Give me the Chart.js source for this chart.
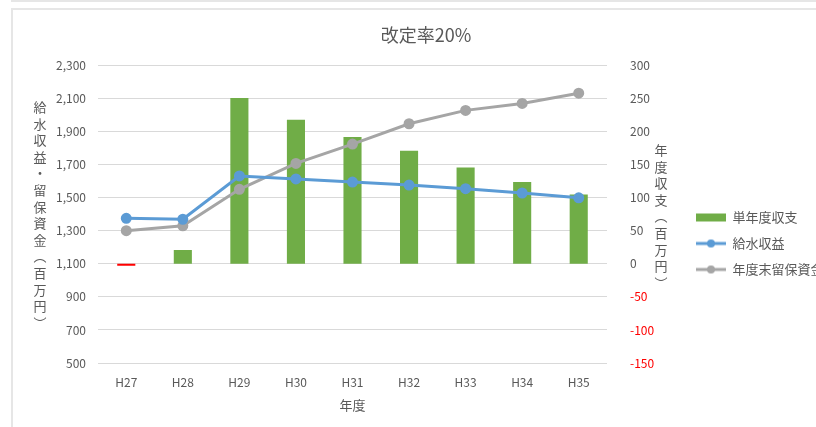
<!DOCTYPE html>
<html lang="ja">
<head>
<meta charset="utf-8">
<script src="https://cdn.jsdelivr.net/npm/chart.js@4.4.1/dist/chart.umd.min.js"></script>
<style>
  html, body { margin: 0; padding: 0; background: #fff; overflow: hidden; }
  body { width: 816px; height: 427px; position: relative; }
  #prev { position: absolute; left: 11px; top: -8px; width: 900px; height: 8px;
          border-left: 2px solid #e6e6e6; border-bottom: 2px solid #e6e6e6; }
  #card { position: absolute; left: 11px; top: 8px; width: 826px; height: 417px;
          border-left: 2px solid #e6e6e6; border-top: 2px solid #e6e6e6; background: #fff; }
  #card canvas { display: block; }
</style>
</head>
<body>
<div id="prev"></div>
<div id="card"><canvas id="grafico" width="826" height="417"></canvas></div>
<script>
const anos = ["H27", "H28", "H29", "H30", "H31", "H32", "H33", "H34", "H35"];
const saldoAnual = [-3, 21, 251, 218, 192, 171, 146, 124, 105];
const receitaAgua = [1376, 1370, 1632, 1614, 1595, 1577, 1555, 1529, 1500];
const reservaFinal = [1301, 1330, 1551, 1708, 1825, 1948, 2029, 2071, 2133];

const tituloEsq = ["給", "水", "収", "益", "・", "留", "保", "資", "金", "︵", "百", "万", "円", "︶"];
const tituloDir = ["年", "度", "収", "支", "︵", "百", "万", "円", "︶"];

const fonte = "'Noto Sans CJK JP', 'Noto Sans', sans-serif";
const cinza = "#595959";

// marcadores da legenda (barra e linha com ponto)
function marcador(tipo, cor) {
  const c = document.createElement("canvas");
  c.width = 30;
  c.height = 10;
  const ctx = c.getContext("2d");
  ctx.fillStyle = cor;
  ctx.strokeStyle = cor;
  if (tipo === "bar") {
    ctx.fillRect(0, 1, 30, 8);
  } else {
    ctx.lineWidth = 3;
    ctx.beginPath();
    ctx.moveTo(0, 5);
    ctx.lineTo(30, 5);
    ctx.stroke();
    ctx.beginPath();
    ctx.arc(15, 5, 4, 0, Math.PI * 2);
    ctx.fill();
  }
  return c;
}
const marcadores = [
  marcador("bar", "#70ad47"),
  marcador("line", "#5b9bd5"),
  marcador("line", "#a5a5a5"),
];

// títulos verticais dos eixos
const titulosVerticais = {
  id: "titulosVerticais",
  afterDraw(chart) {
    const ctx = chart.ctx;
    ctx.save();
    ctx.fillStyle = cinza;
    ctx.font = "13px " + fonte;
    ctx.textAlign = "center";
    ctx.textBaseline = "middle";
    tituloEsq.forEach((ch, i) => ctx.fillText(ch, 27, 97 + i * 16.6));
    tituloDir.forEach((ch, i) => ctx.fillText(ch, 648, 140 + i * 16.6));
    ctx.restore();
  },
};

// posição da legenda
const legendaLugar = {
  id: "legendaLugar",
  beforeLayout(chart) {
    const lg = chart.legend;
    if (lg && !lg._ajustada) {
      const fit = lg.fit;
      lg.fit = function () {
        fit.call(this);
        this.width = 156;
      };
      lg._ajustada = true;
    }
  },
  afterLayout(chart) {
    const lg = chart.legend;
    if (lg) {
      lg.top += 25;
      lg.bottom += 25;
    }
  },
};

new Chart(document.getElementById("grafico"), {
  type: "bar",
  data: {
    labels: anos,
    datasets: [
      {
        label: "単年度収支",
        data: saldoAnual,
        yAxisID: "y1",
        backgroundColor: saldoAnual.map((v) => (v < 0 ? "#ff0000" : "#70ad47")),
        barPercentage: 0.32,
        categoryPercentage: 1,
        order: 2,
      },
      {
        type: "line",
        label: "給水収益",
        data: receitaAgua,
        yAxisID: "y",
        borderColor: "#5b9bd5",
        backgroundColor: "#5b9bd5",
        borderWidth: 3,
        pointRadius: 4,
        pointHoverRadius: 4,
        tension: 0,
        order: 0,
      },
      {
        type: "line",
        label: "年度末留保資金",
        data: reservaFinal,
        yAxisID: "y",
        borderColor: "#a5a5a5",
        backgroundColor: "#a5a5a5",
        borderWidth: 3,
        pointRadius: 4,
        pointHoverRadius: 4,
        tension: 0,
        order: 1,
      },
    ],
  },
  options: {
    responsive: false,
    animation: false,
    layout: { padding: 0 },
    plugins: {
      title: {
        display: true,
        text: "改定率20%",
        color: cinza,
        font: { family: fonte, size: 18, weight: "normal" },
        padding: { top: 14, bottom: 20 },
      },
      legend: {
        position: "right",
        labels: {
          usePointStyle: true,
          pointStyleWidth: 30,
          padding: 13,
          color: cinza,
          font: { family: fonte, size: 13 },
          sort: (a, b) => a.datasetIndex - b.datasetIndex,
          generateLabels(chart) {
            const itens = Chart.defaults.plugins.legend.labels.generateLabels(chart);
            itens.forEach((it) => {
              it.pointStyle = marcadores[it.datasetIndex];
            });
            return itens;
          },
        },
      },
      tooltip: { enabled: false },
    },
    scales: {
      x: {
        grid: { display: false },
        border: { display: false },
        ticks: {
          color: cinza,
          padding: 4,
          font: { family: fonte, size: 12 },
        },
        title: {
          display: true,
          text: "年度",
          color: cinza,
          font: { family: fonte, size: 13 },
          padding: { top: 0, bottom: 14 },
        },
        afterFit(scale) {
          scale.height = 64;
        },
      },
      y: {
        position: "left",
        min: 500,
        max: 2300,
        grid: { color: "#d9d9d9", drawTicks: false },
        border: { display: false },
        ticks: {
          stepSize: 200,
          color: cinza,
          padding: 12,
          font: { family: fonte, size: 12 },
          callback: (v) => v.toLocaleString("en-US"),
        },
        afterFit(scale) {
          scale.width = 85;
        },
      },
      y1: {
        position: "right",
        min: -150,
        max: 300,
        grid: { display: false },
        border: { display: false },
        ticks: {
          stepSize: 50,
          padding: 15,
          color: (ctx) => (ctx.tick.value < 0 ? "#ff0000" : cinza),
          font: { family: fonte, size: 12 },
        },
        afterFit(scale) {
          scale.width = 76;
        },
      },
    },
  },
  plugins: [titulosVerticais, legendaLugar],
});
</script>
</body>
</html>
